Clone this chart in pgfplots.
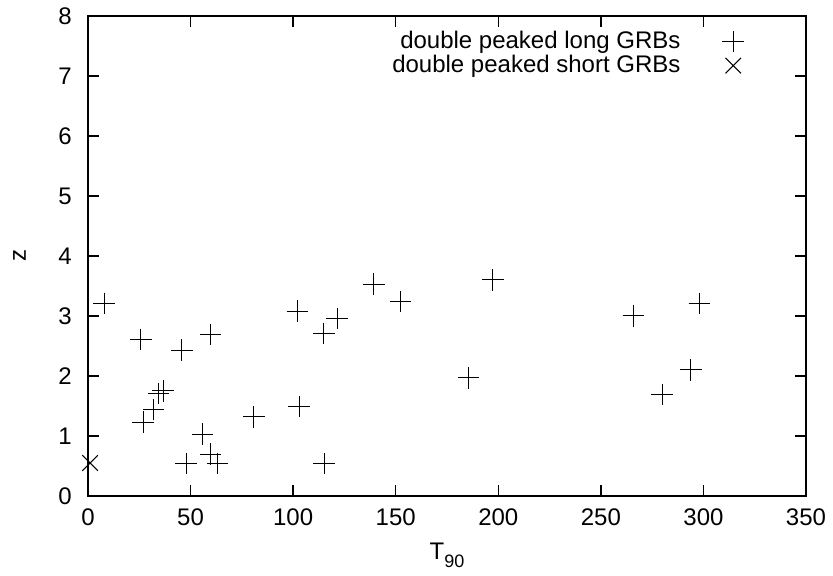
\documentclass[border=0pt]{standalone}
\usepackage{fontspec}
\setmainfont{Liberation Sans}
\usepackage{pgfplots}
\pgfplotsset{compat=1.18}
\begin{document}
\fontsize{24bp}{28bp}\selectfont
\begin{tikzpicture}
\path[use as bounding box] (-88bp,-80bp) rectangle (745bp,496bp);
\begin{axis}[
  at={(0,0)}, anchor=south west,
  scale only axis, width=718bp, height=480bp,
  xmin=0, xmax=350, ymin=0, ymax=8,
  xtick={0,50,...,350}, ytick={0,1,...,8},
  /pgf/number format/assume math mode=true,
  tick label style={font=\fontsize{24bp}{28bp}\selectfont},
  xticklabel style={yshift=-5bp},
  yticklabel style={xshift=-8bp},
  tick align=inside, major tick length=11bp,
  every tick/.style={black, line width=1.4bp},
  axis line style={line width=1.6bp},
  clip=false,
  xlabel={T\raisebox{-0.32em}{\fontsize{18bp}{20bp}\selectfont 90}},
  ylabel={z},
  every axis x label/.style={at={(axis description cs:0.5,0)}, anchor=north, yshift=-39bp, font=\fontsize{24bp}{28bp}\selectfont},
  every axis y label/.style={at={(axis description cs:-0.0954,0.5)}, anchor=center, rotate=90, font=\fontsize{24bp}{28bp}\selectfont},
  legend plot pos=right,
  legend style={draw=none, fill=none, at={(axis description cs:0.914,0.973)}, anchor=north east,
    inner sep=0pt, row sep=-1bp, column sep=40bp,
    cells={anchor=east}, font=\fontsize{24bp}{28bp}\selectfont},
]
\addplot[only marks, mark=+, mark size=10.8bp, line width=1bp, black] coordinates {
(7.8,3.21) (25.7,2.61) (26.9,1.23) (31.9,1.44) (34.4,1.71) (36.7,1.75)
(45.7,2.43) (47.8,0.54) (55.9,1.03) (59.8,2.69) (59.8,0.70) (63.2,0.54)
(80.9,1.32) (102.1,3.08) (102.9,1.49) (114.9,2.71) (115.1,0.54) (121.4,2.96)
(139.4,3.53) (152.4,3.24) (185.4,1.97) (197.3,3.60) (265.9,3.00) (279.9,1.69)
(293.9,2.10) (298.1,3.21)
};
\addlegendentry{double peaked long GRBs}
\addplot[only marks, mark=x, mark size=11bp, line width=1bp, black] coordinates {
(1.0,0.55)
};
\addlegendentry{double peaked short GRBs}
\end{axis}
\end{tikzpicture}
\end{document}
